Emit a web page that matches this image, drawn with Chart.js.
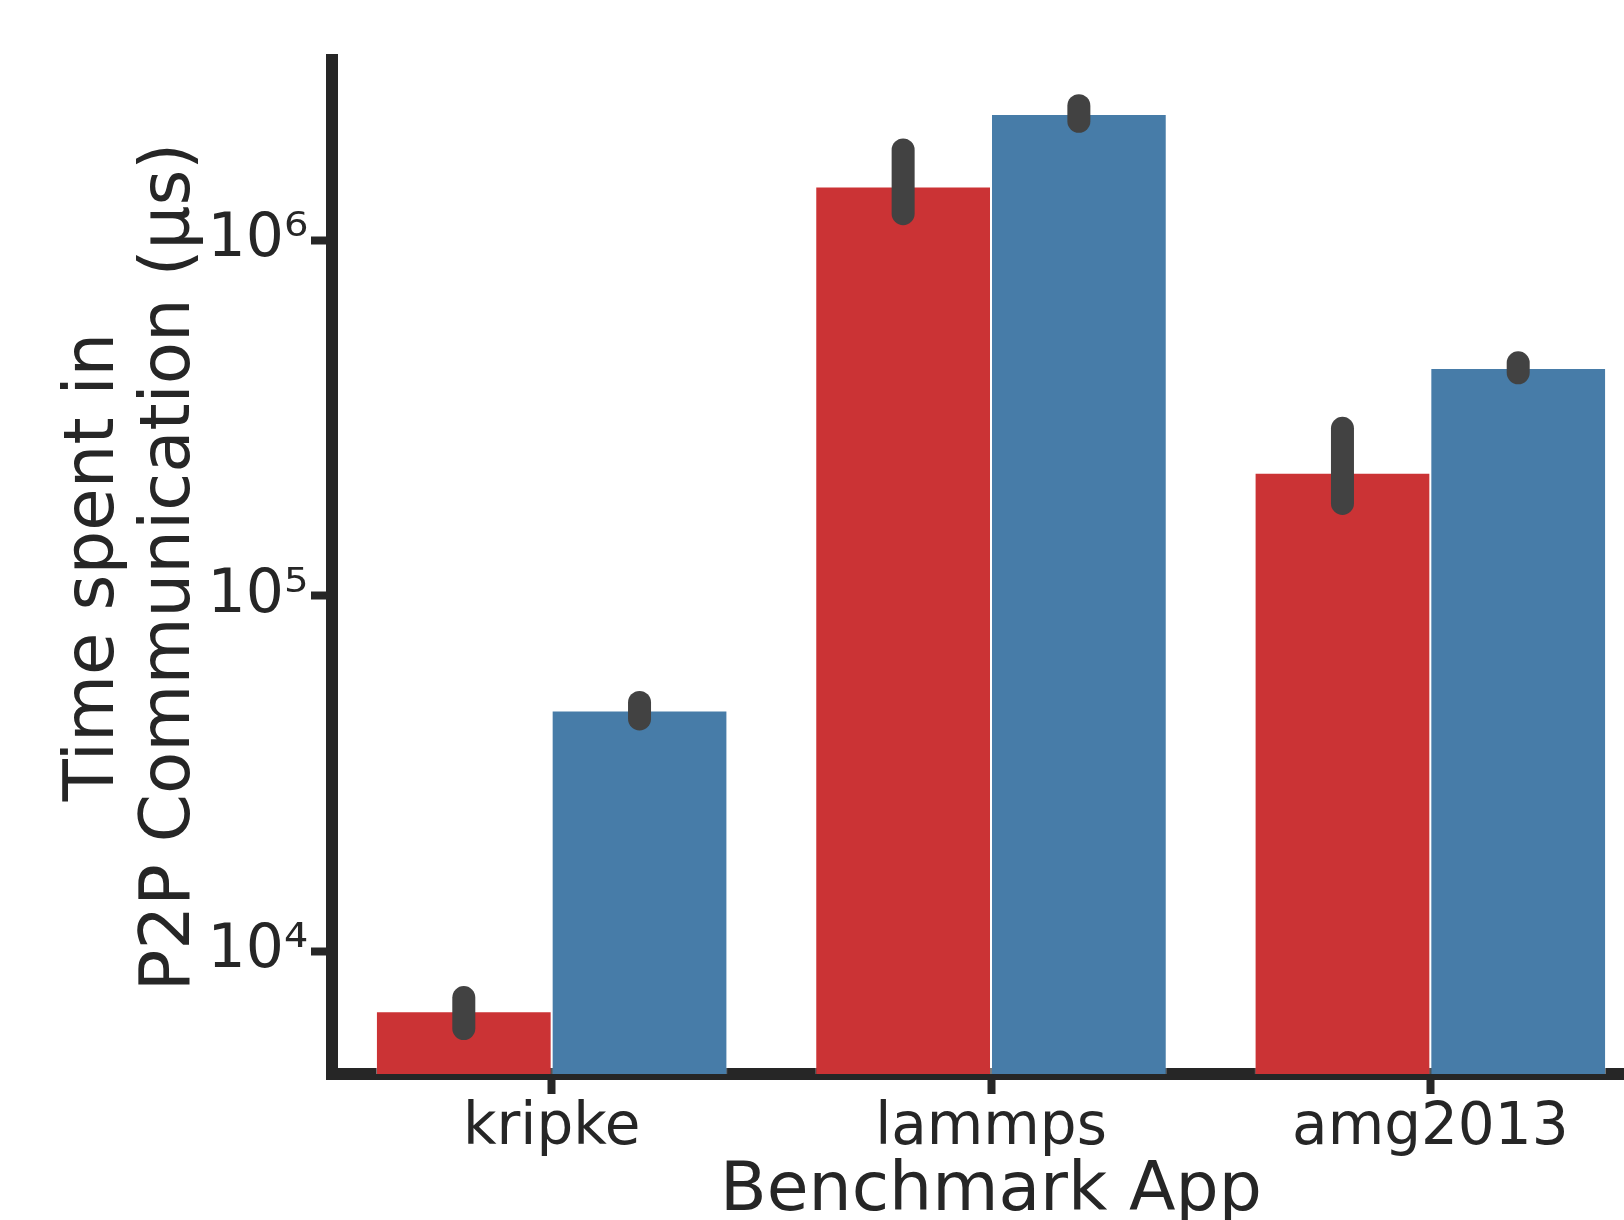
<!DOCTYPE html>
<html lang="en">
<head>
    <meta charset="UTF-8">
    <title>P2P Communication Time</title>
    <script src="https://cdn.jsdelivr.net/npm/chart.js"></script>
    <style>
        html, body { margin: 0; padding: 0; background: #fff; overflow: hidden; }
        /* the axes run a bit past the right edge of the window, as in the original */
        #chartContainer { width: 1660px; height: 1220px; }
    </style>
</head>
<body>

    <div id="chartContainer">
        <canvas id="myChart" width="1660" height="1220"></canvas>
    </div>

    <script>
        // Dados
        const apps = ['kripke', 'lammps', 'amg2013'];
        const redMean = [6800, 1415000, 222000];
        const redLow = [6080, 1187000, 182000];
        const redHigh = [7430, 1793000, 296000];
        const blueMean = [47600, 2262000, 437000];
        const blueLow = [45100, 2158000, 424000];
        const blueHigh = [50200, 2388000, 452000];
        const yTicks = [1e4, 1e5, 1e6];
        const yMin = 4530;
        const yMax = 3.21e6;

        const sup = { 4: '\u2074', 5: '\u2075', 6: '\u2076' };
        const ink = '#262626';
        const font = 'DejaVu Sans';

        // Barras de erro (arredondadas, como no seaborn)
        const errorBars = {
            id: 'errorBars',
            afterDatasetsDraw(chart) {
                const ctx = chart.ctx;
                const y = chart.scales.y;
                ctx.save();
                ctx.strokeStyle = '#424242';
                ctx.lineWidth = 23;
                ctx.lineCap = 'round';
                chart.data.datasets.forEach((ds, i) => {
                    chart.getDatasetMeta(i).data.forEach((bar, j) => {
                        ctx.beginPath();
                        ctx.moveTo(bar.x, y.getPixelForValue(ds.errLow[j]));
                        ctx.lineTo(bar.x, y.getPixelForValue(ds.errHigh[j]));
                        ctx.stroke();
                    });
                });
                ctx.restore();
            }
        };

        const ctx = document.getElementById('myChart').getContext('2d');
        const myChart = new Chart(ctx, {
            type: 'bar',
            data: {
                labels: apps,
                datasets: [{
                    data: redMean,
                    errLow: redLow,
                    errHigh: redHigh,
                    backgroundColor: '#cb3335',
                    borderColor: 'rgba(255, 255, 255, 0.4)',
                    borderWidth: 1,
                    categoryPercentage: 0.8,
                    barPercentage: 1.0
                }, {
                    data: blueMean,
                    errLow: blueLow,
                    errHigh: blueHigh,
                    backgroundColor: '#477ca8',
                    borderColor: 'rgba(255, 255, 255, 0.4)',
                    borderWidth: 1,
                    categoryPercentage: 0.8,
                    barPercentage: 1.0
                }]
            },
            options: {
                responsive: false,
                animation: false,
                layout: { padding: { top: 60, right: 10, left: 0, bottom: 0 } },
                plugins: {
                    legend: { display: false },
                    tooltip: { enabled: false }
                },
                scales: {
                    x: {
                        offset: true,
                        z: 1,
                        grid: {
                            display: true,
                            drawOnChartArea: false,
                            offset: false,
                            tickLength: 20,
                            tickWidth: 8,
                            tickColor: ink
                        },
                        border: { display: true, color: ink, width: 12 },
                        ticks: {
                            color: ink,
                            font: { family: font, size: 58 },
                            padding: 0,
                            maxRotation: 0,
                            autoSkip: false
                        },
                        title: {
                            display: true,
                            text: 'Benchmark App',
                            color: ink,
                            font: { family: font, size: 68, lineHeight: 0.8 },
                            padding: 0
                        },
                        afterFit(s) { s.height = 146; }
                    },
                    y: {
                        type: 'logarithmic',
                        min: yMin,
                        max: yMax,
                        z: 1,
                        afterBuildTicks(s) {
                            s.ticks = yTicks.map(v => ({ value: v }));
                        },
                        grid: {
                            display: true,
                            drawOnChartArea: false,
                            tickLength: 21,
                            tickWidth: 8,
                            tickColor: ink
                        },
                        border: { display: true, color: ink, width: 12 },
                        ticks: {
                            color: ink,
                            font: { family: font, size: 60 },
                            padding: 3,
                            callback: v => '10' + sup[Math.round(Math.log10(v))]
                        },
                        title: {
                            display: true,
                            text: ['Time spent in', 'P2P Communication (\u00b5s)'],
                            color: ink,
                            font: { family: font, size: 69, lineHeight: 1.1 },
                            padding: { top: 57, bottom: 0 }
                        },
                        afterFit(s) { s.width = 332; }
                    }
                }
            },
            plugins: [errorBars]
        });
    </script>

</body>
</html>
